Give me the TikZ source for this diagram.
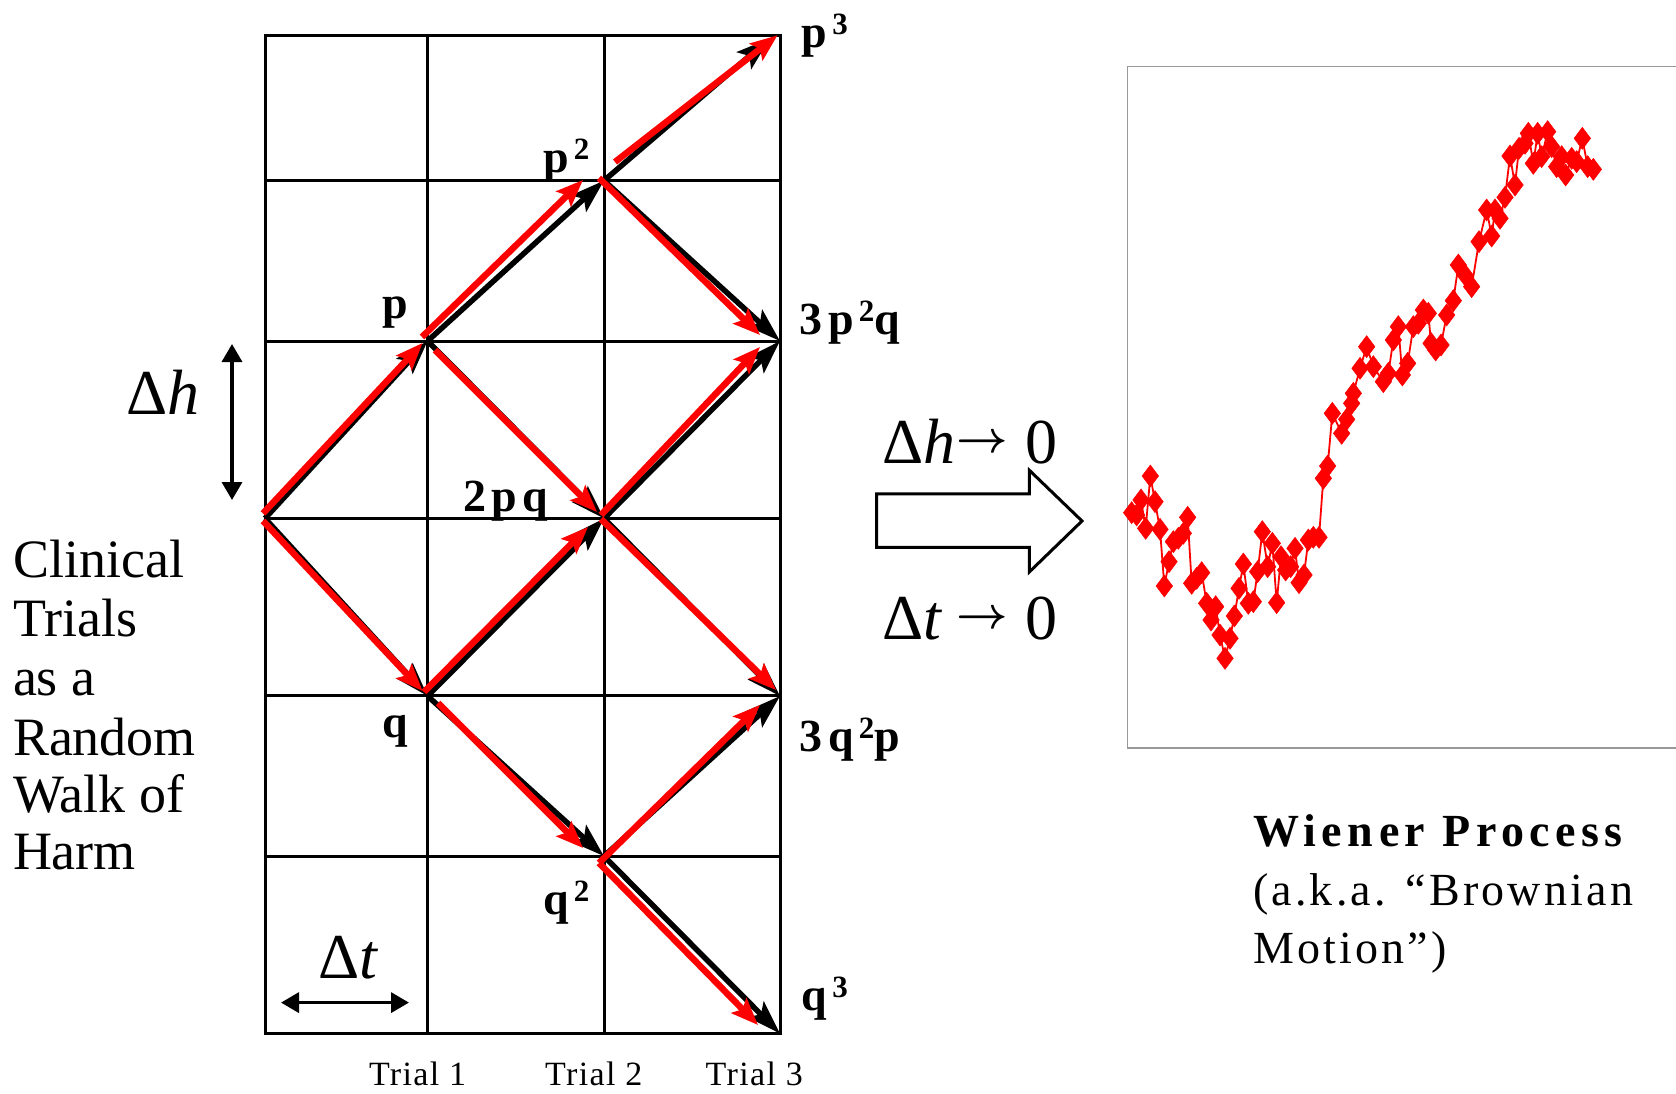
\documentclass[tikz,border=0pt]{standalone}
\usepackage{fontspec}
\usepackage{graphicx}
\setmainfont{Liberation Serif}
\newfontfamily\lblfont{Liberation Serif}[LetterSpace=12]
\newfontfamily\wfont{Liberation Serif}[LetterSpace=12]
\newfontfamily\bfont{Liberation Serif}[LetterSpace=7]
\newfontfamily\trfont{Liberation Serif}[LetterSpace=4]
\usetikzlibrary{arrows.meta,calc,plotmarks}
\newcommand{\mysup}[1]{\kern5pt\raisebox{13pt}{\fontsize{31}{31}\selectfont #1}}
\newcommand{\myarr}{\raisebox{11pt}{\scalebox{1.8}{\boldmath$\rightarrow$}}}
\begin{document}
\begin{tikzpicture}[x=1pt,y=-1pt,
  blk/.style={line width=5.5pt,-{Stealth[length=34pt,width=22pt,inset=7pt]}},
  redarr/.style={red,line width=6.5pt,-{Stealth[length=27pt,width=21pt,inset=5pt]}},
  gridln/.style={line width=3pt},
  lbl/.style={anchor=base west,inner sep=0pt,font=\fontsize{46}{46}\lblfont\bfseries},
  side/.style={anchor=base west,inner sep=0pt,font=\fontsize{54}{58}\selectfont},
  trial/.style={anchor=base west,inner sep=0pt,font=\fontsize{34}{34}\trfont},
  delta/.style={anchor=base west,inner sep=0pt,font=\fontsize{64}{64}\selectfont},
  dimarr/.style={line width=3.5pt,{Triangle[length=18pt,width=20pt]}-{Triangle[length=18pt,width=20pt]}},
  wien/.style={anchor=base west,inner sep=0pt}
]
\useasboundingbox (0,0) rectangle (1676,1094);
\fill[white] (0,0) rectangle (1676,1094);

% grid
\draw[gridln] (265,35.3) rectangle (780,1033.6);
\foreach \gx in {427.6,604} \draw[gridln] (\gx,35.3) -- (\gx,1033.6);
\foreach \gy in {180.6,341,518.4,695.9,856.2} \draw[gridln] (265,\gy) -- (780,\gy);

% lattice points
\coordinate (S) at (265,518.4);
\coordinate (P) at (427.6,341);
\coordinate (Q) at (427.6,696);
\coordinate (PP) at (604,180.6);
\coordinate (PQ) at (604,518.4);
\coordinate (QQ) at (604,856.2);
\coordinate (PPP) at (780,35.3);
\coordinate (PPQ) at (780,341);
\coordinate (QQP) at (780,696);
\coordinate (QQQ) at (780,1033.6);

% black arrows
\draw[blk] (S) -- (P);
\draw[blk] (S) -- (Q);
\draw[blk] (P) -- (PP);
\draw[blk] (P) -- (PQ);
\draw[blk] (Q) -- (PQ);
\draw[blk] (Q) -- (QQ);
\draw[blk] (PP) -- ($(PPP)+(-10,3)$);
\draw[blk] (PP) -- (PPQ);
\draw[blk] (PQ) -- (PPQ);
\draw[blk] (PQ) -- (QQP);
\draw[blk] (QQ) -- (QQP);
\draw[blk] (QQ) -- (QQQ);

% red arrows
\draw[redarr] ($(S)+(-2,-5)$) -- ($(P)+(-5,2)$);
\draw[redarr] ($(S)+(-2,2.5)$) -- ($(Q)+(-5,-5)$);
\draw[redarr] ($(P)+(-5.6,-4)$) -- ($(PP)+(-21,-0.6)$);
\draw[redarr] ($(P)+(7.4,9)$) -- ($(PQ)+(-7,-6.4)$);
\draw[redarr] ($(Q)+(-3.6,-4)$) -- ($(PQ)+(-16,8.6)$);
\draw[redarr] ($(Q)+(10.4,7)$) -- ($(QQ)+(-21,-8.2)$);
\draw[redarr] ($(PP)+(11,-18.6)$) -- ($(PPP)+(-2.5,0)$);
\draw[redarr] ($(PP)+(-5,-2.6)$) -- ($(PPQ)+(-20,-6)$);
\draw[redarr] ($(PQ)+(-3,-3.4)$) -- ($(PPQ)+(-20,6)$);
\draw[redarr] ($(PQ)+(-3,0.6)$) -- ($(QQP)+(-4,-6)$);
\draw[redarr] ($(QQ)+(-5,6.8)$) -- ($(QQP)+(-20,9)$);
\draw[redarr] ($(QQ)+(-5,6.8)$) -- ($(QQQ)+(-22,-8.6)$);

% probability labels
\node[lbl] (lppp) at (801.7,48) {p\mysup{3}};
\node[lbl] (lpp) at (543,173) {p\mysup{2}};
\node[lbl] (lp) at (382.7,318.5) {p};
\node[lbl] (lppq) at (799.5,334.6) {3p\mysup{2}q};
\node[lbl] (lpq) at (462.8,511) {2pq};
\node[lbl] (lq) at (382.7,737.6) {q};
\node[lbl] (lqqp) at (799.5,751) {3q\mysup{2}p};
\node[lbl] (lqq) at (543,914) {q\mysup{2}};
\node[lbl] (lqqq) at (801.7,1010) {q\mysup{3}};

% dimension arrows
\coordinate (dhT) at (232,344);
\coordinate (dhB) at (232,500);
\draw[dimarr] (dhT) -- (dhB);
\node[delta] (dh) at (126,414.7) {Δ\textit{h}};
\coordinate (dtL) at (281,1002.6);
\coordinate (dtR) at (409,1002.6);
\draw[dimarr] (dtL) -- (dtR);
\node[delta] (dt) at (318.5,978) {Δ\textit{t}};

% side text
\foreach \txt/\yy [count=\i] in {Clinical/577,Trials/636,as a/695,Random/755,Walk of/812,Harm/869}
  \node[side] (side\i) at (12.8,\yy) {\txt};

% trial labels
\node[trial] (t1) at (368.8,1085) {Trial 1};
\node[trial] (t2) at (545,1085) {Trial 2};
\node[trial] (t3) at (705.5,1085) {Trial 3};

% limit text and block arrow
\node[delta] (lim1) at (882,463) {Δ\textit{h}\kern1pt\myarr\hspace{18pt}0};
\node[delta] (lim2) at (882,639) {Δ\textit{t}\hspace{14pt}\myarr\hspace{18pt}0};
\draw[line width=3pt,line join=miter,fill=white]
  (876.5,493.8) -- (1029.4,493.8) -- (1029.4,470.3) -- (1082,521) -- (1029.4,571.9) -- (1029.4,547.3) -- (876.5,547.3) -- cycle;

% Wiener plot frame
\draw[gray!80,line width=1.5pt] (1676,66.3) -- (1127.7,66.3) -- (1127.7,748.2) -- (1676,748.2);

\begin{scope}[shift={(1125,110)},x=0.33333pt,y=-0.33333pt]
\draw[red,line width=1.8pt,mark=diamond*,mark size=11pt,mark options={fill=red,draw=red,line width=0.5pt}]
 plot coordinates {
 (20,1208) (35,1215) (48,1170) (62,1255) (76,1098) (90,1175) (105,1258) (118,1428) (132,1355) (145,1295) (160,1285) (175,1270) (188,1222) (200,1420) (215,1405) (230,1388) (245,1480) (258,1530) (272,1490) (285,1575) (300,1645) (315,1585) (328,1518) (342,1435) (355,1362) (370,1480) (385,1475) (398,1385) (412,1265) (428,1370) (442,1300) (455,1478) (468,1340) (482,1380) (497,1370) (510,1315) (522,1418) (537,1395) (550,1290) (565,1282) (582,1282) (595,1105) (608,1068) (622,910) (650,970) (665,928) (680,880)
 (685,850) (705,775) (725,710) (745,770) (775,815) (790,790) (805,690) (820,650) (832,795) (848,760) (865,650) (880,640) (895,600) (910,610) (918,700) (932,720) (948,705) (965,615) (985,572) (1000,465) (1020,495) (1040,530) (1062,395) (1085,300) (1100,378) (1110,300) (1125,325) (1140,262) (1155,138) (1170,225) (1182,115) (1200,100) (1210,70) (1225,160) (1238,70) (1250,140) (1268,65) (1280,110) (1295,170) (1310,140) (1322,195) (1340,145) (1355,155) (1372,85) (1388,170) (1405,178)
 };
\end{scope}

% Wiener text
\node[wien,font=\fontsize{46}{46}\wfont\bfseries] (w1) at (1252.8,846) {Wiener Process};
\node[wien,font=\fontsize{46}{46}\bfont] (w2) at (1252.8,905) {(a.k.a. “Brownian};
\node[wien,font=\fontsize{46}{46}\bfont] (w3) at (1252.8,963) {Motion”)};
\end{tikzpicture}
\end{document}
